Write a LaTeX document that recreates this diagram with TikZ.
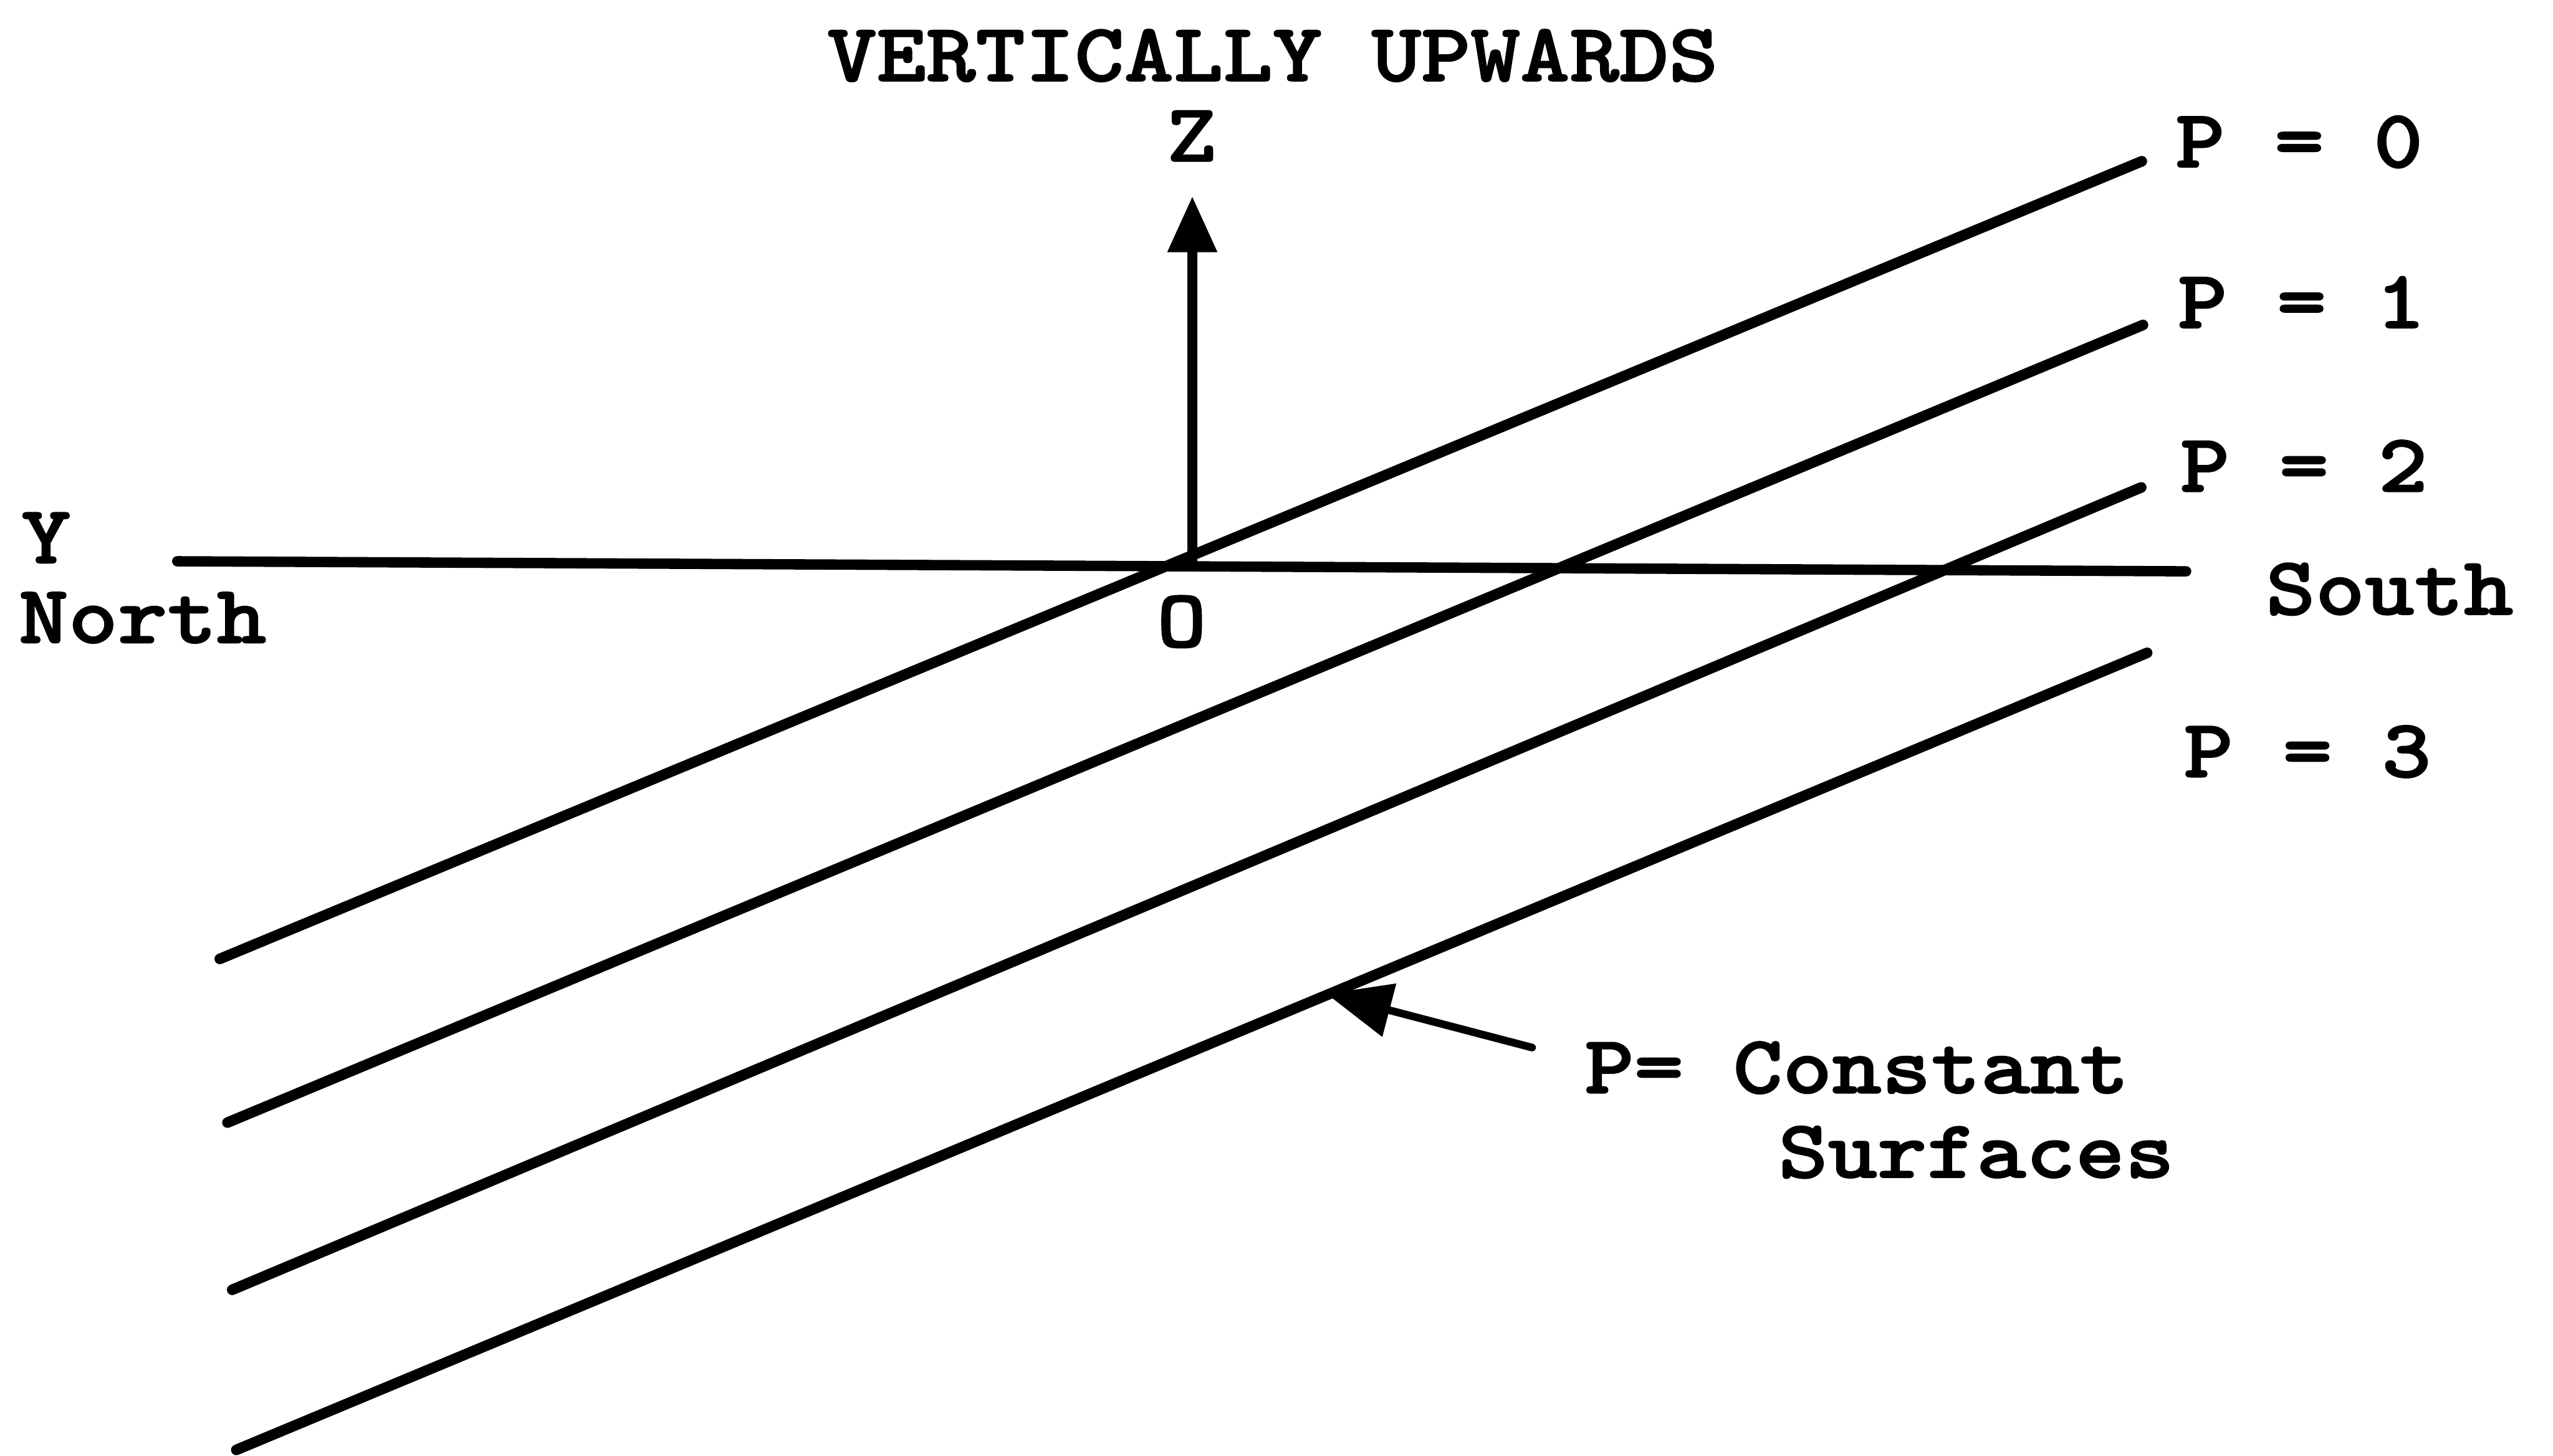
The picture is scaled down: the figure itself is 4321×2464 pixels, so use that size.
\documentclass[tikz,border=0pt]{standalone}
\usepackage{fontspec}
\newfontfamily\twfont{lmmonolt10-bold}[Extension=.otf, FakeStretch=1.14, FakeBold=1.5]
\usetikzlibrary{arrows.meta}
\begin{document}
\begin{tikzpicture}[x=0.1pt,y=-0.1pt,
  lbl/.style={font=\twfont\fontsize{14}{16}\selectfont, inner sep=0pt, outer sep=0pt},
  axisline/.style={line width=1.75pt, line cap=round},
  surfline/.style={line width=1.8pt, line cap=round},
  ptr/.style={line width=1.3pt, line cap=round, -{Triangle[length=11pt,width=9pt]}}]
\useasboundingbox (0,0) rectangle (4321,2464);

% labels
\node[lbl, anchor=base] (title) at (2154,137) {VERTICALLY UPWARDS};
\node[lbl, anchor=base] (zl) at (2017,273) {Z};
\node[lbl, anchor=base] (yl) at (78,953) {Y};
\node[lbl, anchor=base west] (north) at (32,1088) {North};
\node[lbl, anchor=base] (ol) at (2000,1095) {O};
\node[lbl, anchor=base west] (p0) at (3682,283) {P = 0};
\node[lbl, anchor=base west] (p1) at (3686,555) {P = 1};
\node[lbl, anchor=base west] (p2) at (3690,832) {P = 2};
\node[lbl, anchor=base west] (south) at (3835,1040) {South};
\node[lbl, anchor=base west] (p3) at (3696,1315) {P = 3};
\node[lbl, anchor=base west] (pc) at (2682,1850) {P= Constant};
\node[lbl, anchor=base west] (sf) at (3010,1993) {Surfaces};

% axes
\coordinate (O) at (2018,956);
\coordinate (ztip) at (2018,332);
\coordinate (yL) at (300,950);
\coordinate (yR) at (3700,967);
\draw[axisline] (yL) -- (yR);
\draw[axisline, -{Triangle[length=9.5pt,width=8pt]}] (O) -- (ztip);

% P = constant surfaces
\coordinate (a0) at (372,1623);  \coordinate (b0) at (3625,273);
\coordinate (a1) at (385,1900);  \coordinate (b1) at (3627,550);
\coordinate (a2) at (393,2183);  \coordinate (b2) at (3624,825);
\coordinate (a3) at (400,2454);  \coordinate (b3) at (3634,1105);
\draw[surfline] (a0) -- (b0);
\draw[surfline] (a1) -- (b1);
\draw[surfline] (a2) -- (b2);
\draw[surfline] (a3) -- (b3);

% pointer
\coordinate (ptail) at (2593,1773);
\coordinate (ptip) at (2245,1682);
\draw[ptr] (ptail) -- (ptip);
\end{tikzpicture}
\end{document}
